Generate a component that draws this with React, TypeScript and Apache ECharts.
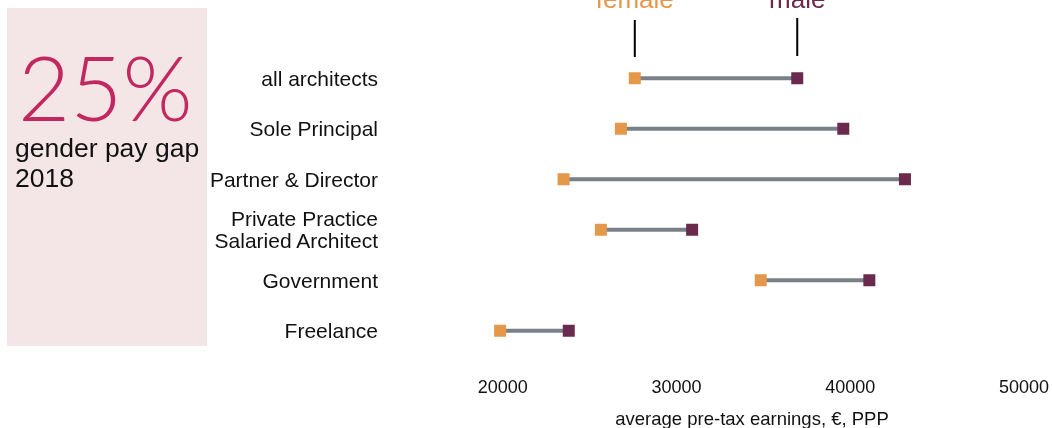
import React, { useEffect, useRef } from "react";
import * as echarts from "echarts";

const categories = [
  "all architects",
  "Sole Principal",
  "Partner & Director",
  "Private Practice\nSalaried Architect",
  "Government",
  "Freelance",
];
const femaleValues = [27600, 26800, 23500, 25650, 34850, 19850];
const maleValues = [36950, 39600, 43150, 30900, 41100, 23800];
const xTicks = [20000, 30000, 40000, 50000];

const FEMALE = "#e5974a";
const MALE = "#6a2a4e";
const FONT = "'Liberation Sans', Arial, Helvetica, sans-serif";

export default function App() {
  const ref = useRef<HTMLDivElement>(null);
  useEffect(() => {
    if (!ref.current) return;
    const chart = echarts.init(ref.current, null, { renderer: "svg" });
    const gapData = categories.map((c, i) => [i, femaleValues[i], maleValues[i]]);
    chart.setOption({
      animation: false,
      textStyle: { fontFamily: FONT },
      grid: { left: 329, right: 27, top: 53, bottom: 72 },
      xAxis: {
        type: "value",
        min: 10000,
        max: 50000,
        interval: 10000,
        axisLine: { show: false },
        axisTick: { show: false },
        splitLine: { show: false },
        axisLabel: {
          color: "#111",
          fontSize: 18,
          fontFamily: FONT,
          margin: 22,
          formatter: (v: number) => (xTicks.includes(v) ? String(v) : ""),
        },
      },
      yAxis: {
        type: "category",
        data: categories,
        inverse: true,
        offset: -57,
        axisLine: { show: false },
        axisTick: { show: false },
        splitLine: { show: false },
        axisLabel: {
          color: "#111",
          fontSize: 21,
          fontFamily: FONT,
          margin: 8,
          lineHeight: 22,
          align: "right",
        },
      },
      series: [
        {
          type: "custom",
          name: "gap",
          data: gapData,
          encode: { x: [1, 2], y: 0 },
          renderItem: (params: any, api: any) => {
            const y = api.value(0);
            const s = api.coord([api.value(1), y]);
            const e = api.coord([api.value(2), y]);
            return {
              type: "line",
              shape: { x1: s[0], y1: s[1], x2: e[0], y2: e[1] },
              style: { stroke: "#7a8088", lineWidth: 4 },
            };
          },
          z: 1,
        },
        {
          type: "scatter",
          name: "female",
          data: femaleValues.map((v, i) => [v, i]),
          symbol: "rect",
          symbolSize: 12,
          itemStyle: { color: FEMALE, opacity: 1 },
          z: 2,
        },
        {
          type: "scatter",
          name: "male",
          data: maleValues.map((v, i) => [v, i]),
          symbol: "rect",
          symbolSize: 12,
          itemStyle: { color: MALE, opacity: 1 },
          z: 2,
        },
      ],
    });

    const fp = chart.convertToPixel({ gridIndex: 0 }, [femaleValues[0], 0]) as number[];
    const mp = chart.convertToPixel({ gridIndex: 0 }, [maleValues[0], 0]) as number[];

    chart.setOption({
      graphic: [
        {
          type: "rect",
          shape: { x: 7, y: 8, width: 200, height: 338 },
          style: { fill: "#f4e5e6" },
          z: -10,
        },
        {
          type: "text",
          x: 18,
          y: 86,
          style: {
            text: "25%",
            fontSize: 90,
            lineHeight: 72,
            fontWeight: 300,
            fontFamily: "Lato, " + FONT,
            fill: "#c2285f",
            verticalAlign: "middle",
            align: "left",
          },
        },
        {
          type: "text",
          x: 15,
          y: 133,
          style: {
            text: "gender pay gap\n2018",
            fontSize: 26.5,
            lineHeight: 30,
            fontFamily: FONT,
            fill: "#111",
            verticalAlign: "top",
            align: "left",
          },
        },
        {
          type: "text",
          x: fp[0],
          y: -1,
          style: {
            text: "female",
            fontSize: 26,
            fontFamily: FONT,
            fill: FEMALE,
            align: "center",
            verticalAlign: "middle",
          },
        },
        {
          type: "text",
          x: mp[0],
          y: -1,
          style: {
            text: "male",
            fontSize: 26,
            fontFamily: FONT,
            fill: MALE,
            align: "center",
            verticalAlign: "middle",
          },
        },
        {
          type: "line",
          shape: { x1: fp[0], y1: 20, x2: fp[0], y2: 57 },
          style: { stroke: "#000", lineWidth: 2 },
        },
        {
          type: "line",
          shape: { x1: mp[0], y1: 18, x2: mp[0], y2: 56 },
          style: { stroke: "#000", lineWidth: 2 },
        },
        {
          type: "text",
          x: 752,
          y: 418,
          style: {
            text: "average pre-tax earnings, €, PPP",
            fontSize: 18.5,
            fontFamily: FONT,
            fill: "#111",
            align: "center",
            verticalAlign: "middle",
          },
        },
      ],
    });
    return () => chart.dispose();
  }, []);
  return (
    <div
      ref={ref}
      style={{ position: "fixed", left: 0, top: 0, width: 1052, height: 428 }}
    />
  );
}
